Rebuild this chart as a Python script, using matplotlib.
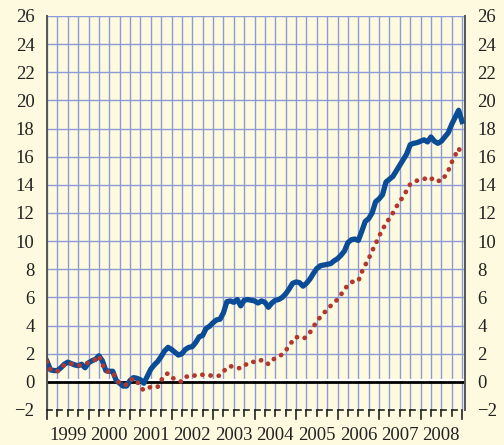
import numpy as np
import matplotlib
matplotlib.use("Agg")
import matplotlib.pyplot as plt
import matplotlib.transforms as mtransforms

# monthly series, Jan 1999 .. Jan 2009
blue_vals = [
    1.45, 0.85, 0.8, 0.8, 1.0, 1.25, 1.4, 1.3, 1.2, 1.15, 1.25, 1.0,
    1.35, 1.5, 1.6, 1.85, 1.5, 0.8, 0.75, 0.75, 0.1, -0.1, -0.3, -0.3,
    0.1, 0.3, 0.25, 0.15, -0.1, 0.4, 0.9, 1.2, 1.45, 1.8, 2.2, 2.45,
    2.3, 2.1, 1.9, 2.0, 2.3, 2.45, 2.5, 2.8, 3.2, 3.3, 3.8, 3.95,
    4.2, 4.4, 4.45, 4.9, 5.7, 5.75, 5.65, 5.85, 5.4, 5.8, 5.85, 5.8,
    5.75, 5.6, 5.75, 5.65, 5.3, 5.6, 5.8, 5.85, 6.0, 6.25, 6.6, 7.0,
    7.1, 7.05, 6.8, 7.0, 7.3, 7.7, 8.05, 8.25, 8.3, 8.35, 8.4, 8.6,
    8.75, 9.0, 9.3, 9.9, 10.1, 10.15, 10.05, 10.7, 11.4, 11.6, 12.0, 12.8,
    13.0, 13.3, 14.2, 14.4, 14.6, 15.0, 15.4, 15.8, 16.2, 16.85, 16.95, 17.0,
    17.1, 17.2, 17.05, 17.4, 17.1, 16.95, 17.1, 17.4, 17.7, 18.3, 18.8, 19.3,
    18.5,
]
red_vals = [
    1.45, 0.85, 0.75, 0.75, 1.0, 1.2, 1.3, 1.3, 1.2, 1.15, 1.2, 1.3,
    1.35, 1.45, 1.6, 1.85, 1.25, 0.75, 0.7, 0.7, 0.15, -0.1, -0.2, -0.2,
    0.1, 0.25, 0.05, -0.4, -0.6, -0.5, -0.35, -0.3, -0.35, 0.1, 0.5, 0.6,
    0.3, 0.2, 0.05, 0.02, 0.35, 0.4, 0.35, 0.5, 0.55, 0.5, 0.5, 0.45,
    0.45, 0.4, 0.45, 0.7, 1.05, 1.1, 1.1, 1.0, 0.95, 1.15, 1.3, 1.45,
    1.4, 1.4, 1.55, 1.5, 1.25, 1.5, 1.7, 1.8, 1.95, 2.2, 2.6, 2.9,
    3.2, 3.1, 3.05, 3.2, 3.5, 3.9, 4.3, 4.6, 4.9, 5.1, 5.4, 5.65,
    5.85, 6.2, 6.6, 6.85, 7.1, 7.12, 7.15, 7.8, 8.3, 8.75, 9.3, 9.8,
    10.35, 10.8, 11.3, 11.6, 12.0, 12.45, 12.8, 13.2, 13.6, 14.05, 14.2, 14.3,
    14.3, 14.4, 14.55, 14.4, 14.5, 14.3, 14.25, 14.6, 15.0, 15.6, 16.1, 16.6,
    16.1,
]
years = list(range(1999, 2009))
y_ticks = list(range(-2, 27, 2))

bg = "#fefadf"
grid_c = "#8c9bd6"
font = "Liberation Serif"

t = 1999 + np.arange(len(blue_vals)) / 12.0

fig = plt.figure(figsize=(5.04, 4.45), dpi=100, facecolor=bg)
ax = fig.add_axes([0.0933, 0.0787, 0.8293, 0.8854], facecolor=bg)

ax.set_xlim(1999, 2009.07)
ax.set_ylim(-2, 26)

# grid
for q in np.arange(1999, 2009.01, 0.25):
    ax.axvline(q, color=grid_c, lw=1.0, zorder=1)
for yv in range(2, 27, 2):
    ax.axhline(yv, color=grid_c, lw=1.0, zorder=1)
ax.axhline(0.12, color="white", lw=1.5, zorder=2)
ax.axhline(0, color="black", lw=2.0, zorder=2)

ax.plot(t, blue_vals, color="#0a4d96", lw=3.8, zorder=3, solid_joinstyle="round")
ax.plot(t, red_vals, color="#b2382f", lw=3.4, zorder=4,
        linestyle=(0, (0.05, 1.7)), dash_capstyle="round")

for s in ["top", "bottom"]:
    ax.spines[s].set_visible(False)
for s in ["left", "right"]:
    ax.spines[s].set_color("#555555")
    ax.spines[s].set_linewidth(1.4)

ax.set_xticks([])
ax.set_yticks(y_ticks)
ax.set_yticklabels([str(v).replace("-", "\u2212") for v in y_ticks])
ax.tick_params(axis="y", length=0, labelright=True, labelsize=13.5,
               labelcolor="#222222", pad=9)
for lab in ax.get_yticklabels():
    lab.set_fontfamily(font)

# step-shaped tick marks along the bottom
trans = mtransforms.blended_transform_factory(ax.transData, ax.transAxes)
for i, q in enumerate(np.arange(1999, 2009.01, 0.25)):
    ln = 0.022 if i % 4 == 0 else 0.015
    ax.plot([q, q], [0, -ln], color="#222222", lw=1.2, transform=trans,
            clip_on=False, zorder=5)
    if q < 2009:
        ax.plot([q, q + 0.12], [0, 0], color="#222222", lw=1.2,
                transform=trans, clip_on=False, zorder=5)

for yr in years:
    ax.text(yr + 0.5, -0.064, str(yr), transform=trans, ha="center",
            va="center", fontsize=13.5, family=font, color="#222222")

fig.savefig("out.png", dpi=100, facecolor=bg)
